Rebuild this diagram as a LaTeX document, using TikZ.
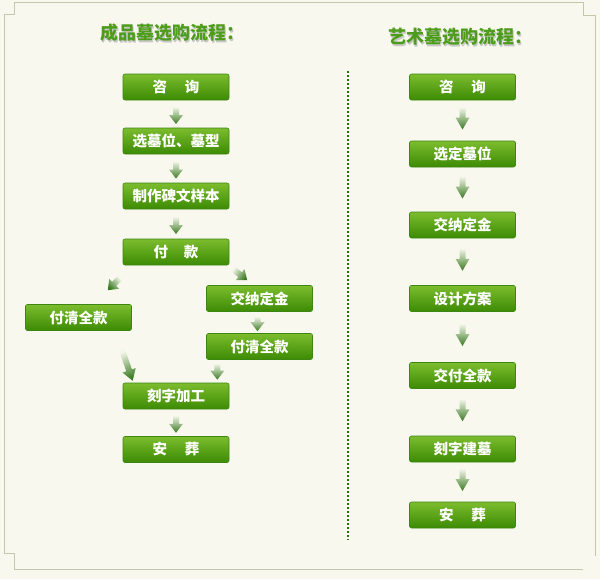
\documentclass[tikz,border=0pt]{standalone}
\usepackage{fontspec}
\newfontfamily\cjk{Noto Sans CJK SC}
\usetikzlibrary{calc}
\definecolor{bg}{HTML}{F8F8EE}
\definecolor{framec}{HTML}{C4C6AE}
\definecolor{boxtop}{HTML}{7CBD2E}
\definecolor{boxbot}{HTML}{3C8A04}
\definecolor{boxedge}{HTML}{3E8612}
\definecolor{titlec}{HTML}{4E9C1C}
\definecolor{dotc}{HTML}{2E6E0C}
\definecolor{arrlight}{HTML}{F2F6E8}
\definecolor{arrdark}{HTML}{3A7A22}
\newcommand\garrow[4]{%
  \coordinate (gT) at (#1);
  \coordinate (gH) at (#2);
  \coordinate (gN) at ($(gH)!#4pt!(gT)$);
  \shade[top color=arrlight, bottom color=arrdark, shading angle=#3]
    ($(gT)!3pt!90:(gH)$) -- ($(gN)!3pt!90:(gH)$) -- ($(gN)!7pt!90:(gH)$) -- (gH)
    -- ($(gN)!7pt!-90:(gH)$) -- ($(gN)!3pt!-90:(gH)$) -- ($(gT)!3pt!-90:(gH)$) -- cycle;
}
\begin{document}
\begin{tikzpicture}[x=1pt,y=-1pt,
  box/.style={rectangle, minimum width=106pt, minimum height=26pt, inner sep=0pt,
    rounded corners=2pt, top color=boxtop, bottom color=boxbot, draw=boxedge, line width=0.6pt,
    text=white, font=\cjk\bfseries\fontsize{14.5}{16}\selectfont},
  ttl/.style={font=\cjk\bfseries\fontsize{18}{20}\selectfont, text=titlec, inner sep=0pt},
  ttlshadow/.style={font=\cjk\bfseries\fontsize{18}{20}\selectfont, text=black!22, inner sep=0pt}]
\useasboundingbox (0,0) rectangle (600,579);
\fill[bg] (0,0) rectangle (600,579);
% frame
\draw[framec, line width=0.9pt]
  (4,553) -- (4,14) -- (14,14) -- (14,2.5) -- (583,2.5) -- (583,15) -- (595,15) -- (595,556);
\draw[framec, line width=0.9pt]
  (583,569) -- (14,569) -- (14,553) -- (4,553);
% titles
\node[ttlshadow] (t1s) at (173.5,34.5) {成品墓选购流程：};
\node[ttl] (t1) at (172,33) {成品墓选购流程：};
\node[ttlshadow] (t2s) at (461.5,38.5) {艺术墓选购流程：};
\node[ttl] (t2) at (460,37) {艺术墓选购流程：};
% divider
\draw[dotc, line width=2.2pt, dash pattern=on 2pt off 2pt] (348,71) -- (348,540);
% left column
\node[box] (l1) at (176,87) {咨\hspace{18pt}询};
\node[box] (l2) at (176,141) {选墓位、墓型};
\node[box] (l3) at (176,196) {制作碑文样本};
\node[box] (l4) at (176,252) {付\hspace{16pt}款};
\node[box] (ld) at (259.5,298.5) {交纳定金};
\node[box] (lp) at (78.5,317.5) {付清全款};
\node[box] (lq) at (259.5,346.5) {付清全款};
\node[box] (l5) at (176,396) {刻字加工};
\node[box] (l6) at (176,449.5) {安\hspace{18pt}葬};
% right column
\node[box] (r1) at (462.5,87) {咨\hspace{18pt}询};
\node[box] (r2) at (462.5,154) {选定墓位};
\node[box] (r3) at (462.5,225) {交纳定金};
\node[box] (r4) at (462.5,298.5) {设计方案};
\node[box] (r5) at (462.5,375.5) {交付全款};
\node[box] (r6) at (462.5,449) {刻字建墓};
\node[box] (r7) at (462.5,515) {安\hspace{18pt}葬};
% left arrows
\garrow{$(l1.south)!0.5!(l2.north)+(0,-7)$}{$(l1.south)!0.5!(l2.north)+(0,10)$}{0}{9}
\garrow{$(l2.south)!0.5!(l3.north)+(0,-7)$}{$(l2.south)!0.5!(l3.north)+(0,10)$}{0}{9}
\garrow{$(l3.south)!0.5!(l4.north)+(0,-7)$}{$(l3.south)!0.5!(l4.north)+(0,10)$}{0}{9}
\garrow{$(l4.south west)+(-3,13)$}{$(lp.north east)+(-24,-14)$}{-45}{9}
\garrow{$(l4.south east)+(4,4)$}{$(ld.north west)+(41,-5)$}{52}{9}
\garrow{$(ld.south)+(-2,5)$}{$(lq.north)+(-2,-2)$}{0}{9}
\garrow{$(lp.south)+(43.5,19)$}{$(l5.north west)+(10,-2)$}{20}{11}
\garrow{$(l5.north east)+(-12,-19)$}{$(l5.north east)+(-12,-3)$}{0}{9}
\garrow{$(l5.south)!0.5!(l6.north)+(0,-7)$}{$(l5.south)!0.5!(l6.north)+(0,10)$}{0}{9}
% right arrows
\garrow{$(r1.south)!0.5!(r2.north)+(0,-13)$}{$(r1.south)!0.5!(r2.north)+(0,9)$}{0}{12}
\garrow{$(r2.south)!0.5!(r3.north)+(0,-13)$}{$(r2.south)!0.5!(r3.north)+(0,9)$}{0}{12}
\garrow{$(r3.south)!0.5!(r4.north)+(0,-13)$}{$(r3.south)!0.5!(r4.north)+(0,9)$}{0}{12}
\garrow{$(r4.south)!0.5!(r5.north)+(0,-13)$}{$(r4.south)!0.5!(r5.north)+(0,9)$}{0}{12}
\garrow{$(r5.south)!0.5!(r6.north)+(0,-13)$}{$(r5.south)!0.5!(r6.north)+(0,9)$}{0}{12}
\garrow{$(r6.south)!0.5!(r7.north)+(0,-13)$}{$(r6.south)!0.5!(r7.north)+(0,9)$}{0}{12}
\end{tikzpicture}
\end{document}
